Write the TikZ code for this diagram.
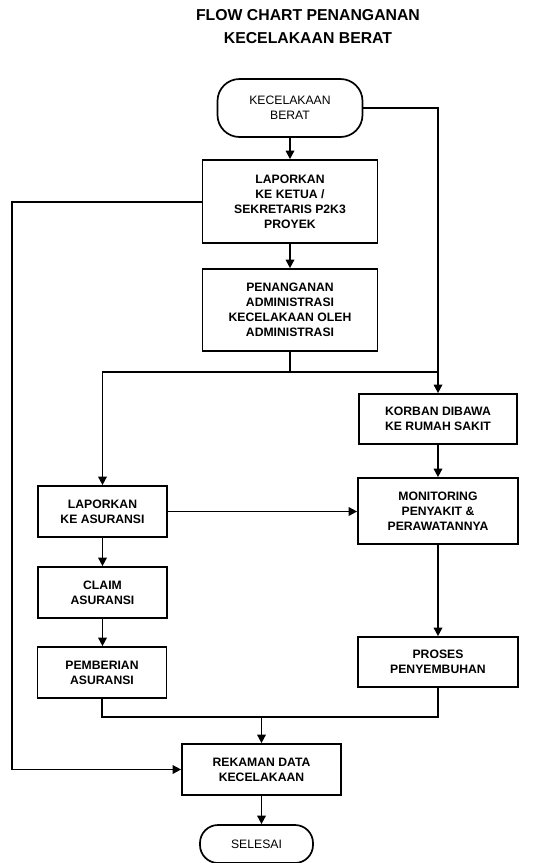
\documentclass[tikz,border=0pt]{standalone}
\usepackage{fontspec}
\setmainfont{Liberation Sans}
\usetikzlibrary{arrows.meta}

\tikzset{
  procbox/.style={draw, line width=1.7pt, align=center, inner sep=1pt,
    font=\fontsize{12.2}{15}\selectfont\bfseries},
  termbox/.style={draw, line width=1.7pt, align=center, inner sep=1pt,
    rounded corners=22pt, font=\fontsize{12.2}{15}\selectfont},
  flowline/.style={line width=1.7pt},
  flowarrow/.style={line width=1.7pt, -{Triangle[length=8.5pt, width=8.5pt]}}
}

\begin{document}
\begin{tikzpicture}[x=1pt, y=-1pt]

  \useasboundingbox (0,0) rectangle (557,863);

  % ================================================================
  % Title
  % ================================================================

  \node[align=center, font=\fontsize{15.8}{23.5}\selectfont\bfseries]
    (title) at (308, 26.5)
    {FLOW CHART PENANGANAN\\KECELAKAAN BERAT};

  % ================================================================
  % Start and end
  % ================================================================

  \node[termbox, minimum width=145pt, minimum height=58pt]
    (start) at (290, 108) {KECELAKAAN\\BERAT};

  \node[termbox, minimum width=113pt, minimum height=38pt, rounded corners=18pt]
    (selesai) at (256.5, 844) {SELESAI};

  % ================================================================
  % Centre column
  % ================================================================

  \node[procbox, minimum width=175pt, minimum height=83pt]
    (ketua) at (290, 201.5)
    {LAPORKAN\\KE KETUA /\\SEKRETARIS P2K3\\PROYEK};

  \node[procbox, minimum width=175pt, minimum height=82pt]
    (admin) at (290, 310)
    {PENANGANAN\\ADMINISTRASI\\KECELAKAAN OLEH\\ADMINISTRASI};

  \node[procbox, minimum width=159pt, minimum height=51pt]
    (rekaman) at (261.5, 769.5)
    {REKAMAN DATA\\KECELAKAAN};

  % ================================================================
  % Left column (insurance)
  % ================================================================

  \node[procbox, minimum width=129pt, minimum height=51pt]
    (asuransi) at (102.5, 511.5)
    {LAPORKAN\\KE ASURANSI};

  \node[procbox, minimum width=129pt, minimum height=51pt]
    (claim) at (102.5, 592.5)
    {CLAIM\\ASURANSI};

  \node[procbox, minimum width=129pt, minimum height=51pt]
    (pemberian) at (102, 672.5)
    {PEMBERIAN\\ASURANSI};

  % ================================================================
  % Right column (hospital)
  % ================================================================

  \node[procbox, minimum width=158pt, minimum height=50pt]
    (korban) at (438, 419)
    {KORBAN DIBAWA\\KE RUMAH SAKIT};

  \node[procbox, minimum width=160pt, minimum height=66pt]
    (monitor) at (438, 511)
    {MONITORING\\PENYAKIT \&\\PERAWATANNYA};

  \node[procbox, minimum width=160pt, minimum height=50pt]
    (proses) at (438, 662)
    {PROSES\\PENYEMBUHAN};

  % ================================================================
  % Junctions
  % ================================================================

  \coordinate (leftrail) at (12, 202);
  \coordinate (split) at (290, 372);
  \coordinate (merge) at (261.5, 717);

  % ================================================================
  % Arrows
  % ================================================================

  % --- main column ---
  \draw[flowarrow] (start.south) -- (ketua.north);
  \draw[flowarrow] (ketua.south) -- (admin.south |- admin.north);

  % --- start -> hospital ---
  \draw[flowarrow] (start.east) -| (korban.north);

  % --- admin -> split ---
  \draw[flowline] (admin.south) -- (split);
  \draw[flowarrow] (split) -| (asuransi.north);
  \draw[flowline] (split) -- (split -| korban.north);

  % --- insurance column ---
  \draw[flowarrow] (asuransi.south) -- (claim.north);
  \draw[flowarrow] (claim.south) -- (claim.south |- pemberian.north);
  \draw[flowarrow] (asuransi.east) -- (monitor.west |- asuransi.east);

  % --- hospital column ---
  \draw[flowarrow] (korban.south) -- (monitor.north);
  \draw[flowarrow] (monitor.south) -- (proses.north);

  % --- both columns -> record ---
  \draw[flowline] (pemberian.south) |- (proses.south |- merge) -- (proses.south);
  \draw[flowarrow] (merge) -- (rekaman.north);

  % --- report -> record, routed along the left edge ---
  \draw[flowarrow] (ketua.west |- leftrail) -- (leftrail) |- (rekaman.west);

  % --- record -> end ---
  \draw[flowarrow] (rekaman.south) -- (rekaman.south |- selesai.north);

\end{tikzpicture}
\end{document}
